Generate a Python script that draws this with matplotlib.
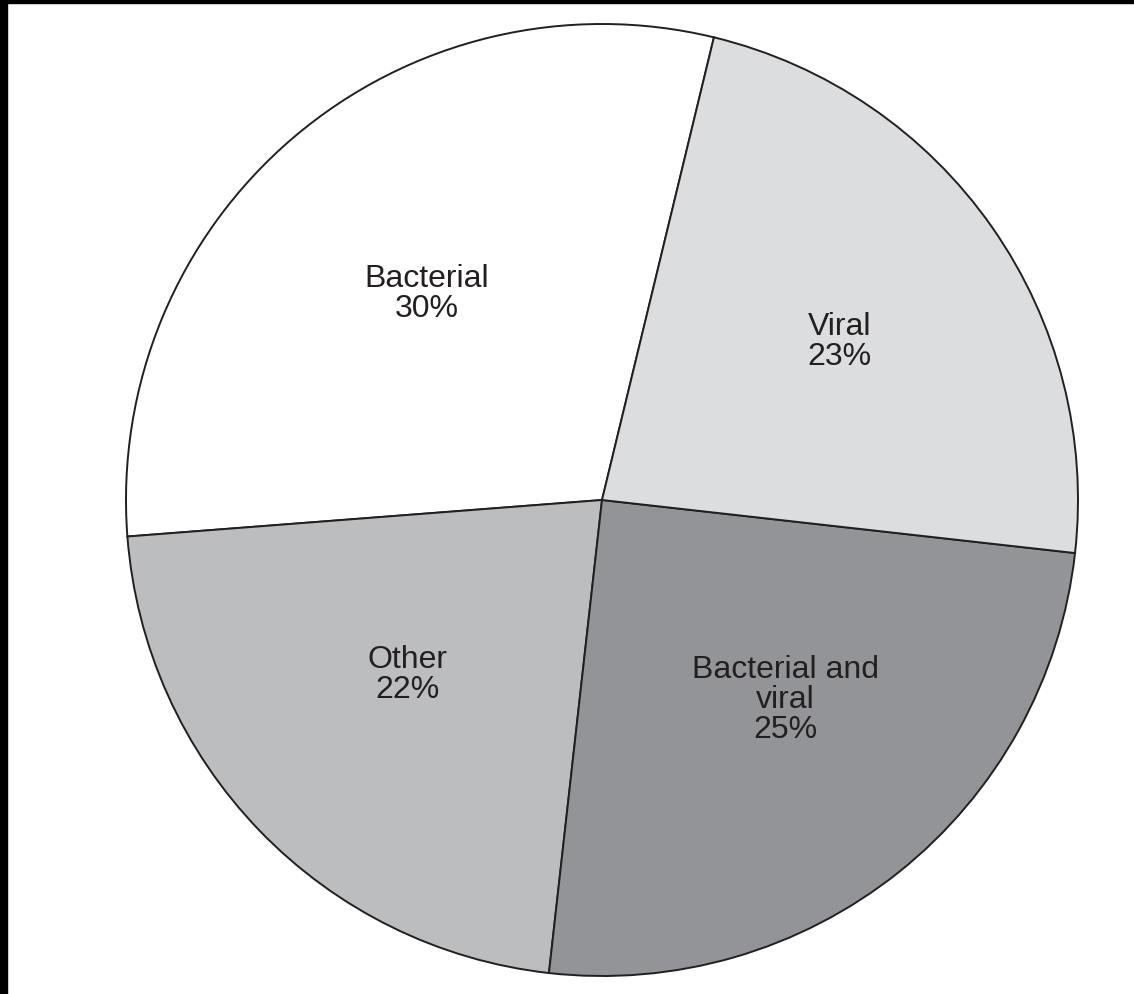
import numpy as np
import matplotlib
matplotlib.use('Agg')
import matplotlib.pyplot as plt
from matplotlib.patches import Rectangle

# slices, counter-clockwise from the Bacterial/Viral boundary
labels = ['Bacterial\n30%', 'Other\n22%', 'Bacterial and\nviral\n25%', 'Viral\n23%']
values = [30, 22, 25, 23]
colors = ['#ffffff', '#bcbdbf', '#939498', '#dcdddf']

W, H = 1134, 994
cx, cy, r = 602, 500, 476

fig = plt.figure(figsize=(W / 100, H / 100), dpi=100)
fig.patch.set_facecolor('white')

ax = fig.add_axes([(cx - r) / W, (H - cy - r) / H, 2 * r / W, 2 * r / H])
wedges, _ = ax.pie(values, colors=colors, startangle=76.4, counterclock=True,
                   radius=1.0,
                   wedgeprops=dict(edgecolor='#231f20', linewidth=1.4))
for w in wedges:
    w.set_clip_on(False)
ax.set_xlim(-1, 1)
ax.set_ylim(-1, 1)
ax.axis('off')

# label placement inside each wedge: (radius fraction, angle tweak in degrees)
label_place = [(0.567, 0.0), (0.551, -2.0), (0.570, 4.0), (0.600, -1.4)]
for w, lab, (d, da) in zip(wedges, labels, label_place):
    ang = np.deg2rad((w.theta1 + w.theta2) / 2 + da)
    ax.text(d * np.cos(ang), d * np.sin(ang), lab, ha='center', va='center',
            fontsize=23, family='Liberation Sans', color='#231f20',
            linespacing=1.0)

# black frame strips at top and left of the scan
fig.add_artist(Rectangle((0, 1 - 3 / H), 1, 3 / H, transform=fig.transFigure,
                         color='black', zorder=10))
fig.add_artist(Rectangle((0, 0), 7 / W, 1, transform=fig.transFigure,
                         color='black', zorder=10))

fig.savefig('out.png', dpi=100)
